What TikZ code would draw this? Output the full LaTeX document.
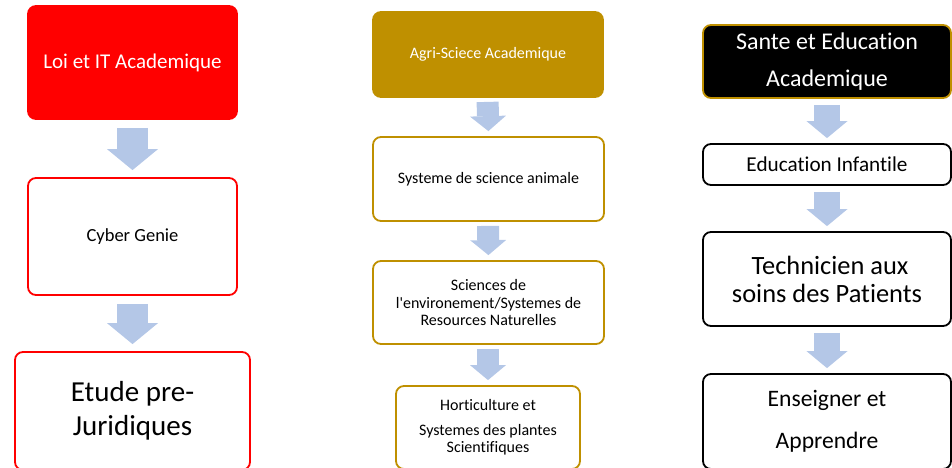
\documentclass[tikz,border=0pt]{standalone}
\usepackage{fontspec}
\setmainfont{Carlito}[Ligatures={TeX,NoCommon}]
\usetikzlibrary{arrows.meta}
\definecolor{lawred}{HTML}{FF0000}
\definecolor{agrigold}{HTML}{BF9000}
\definecolor{flowblue}{HTML}{B4C7E7}
\tikzset{
  box/.style={draw, rounded corners=8pt, line width=1.8pt, fill=white, inner sep=0pt, align=center},
  flow/.style n args={3}{draw=flowblue, line width=#1, -{Triangle[width=#2, length=#3, line width=0pt]}},
  flowbig/.style={flow={31pt}{51pt}{21pt}, shorten <=8pt, shorten >=7pt},
  flowsmall/.style={flow={22pt}{36pt}{15pt}, shorten <=4pt, shorten >=5pt},
  flowmid/.style={flow={26pt}{41pt}{17pt}, shorten <=6pt, shorten >=5pt}
}
\begin{document}
\begin{tikzpicture}[x=1pt, y=-1pt]
  \clip (0,0) rectangle (952,467);
  \useasboundingbox (0,0) rectangle (952,467);
  % loi et IT
  \node[box, draw=lawred, fill=lawred, text=white, minimum width=209pt, minimum height=113pt,
        font=\fontsize{21}{25}\selectfont] (loi) at (132.5,62.5) {Loi et IT Academique};
  \node[box, draw=lawred, minimum width=209pt, minimum height=117pt,
        font=\fontsize{18.5}{22}\selectfont] (cyber) at (132.5,236.5) {Cyber Genie};
  \node[box, draw=lawred, minimum width=235pt, minimum height=118pt,
        font=\fontsize{29}{34}\selectfont] (etude) at (132.5,411) {Etude pre-\\Juridiques};
  % agri-science
  \node[box, draw=agrigold, fill=agrigold, text=white, minimum width=230pt, minimum height=85pt,
        font=\fontsize{16}{19}\selectfont] (agri) at (488,54.5) {Agri-Sciece Academique};
  \node[box, draw=agrigold, minimum width=231pt, minimum height=84pt,
        font=\fontsize{16}{19}\selectfont] (animal) at (488.5,179) {Systeme de science animale};
  \node[box, draw=agrigold, minimum width=231pt, minimum height=83pt,
        font=\fontsize{16}{17.5}\selectfont] (enviro) at (488.5,302.5)
        {Sciences de\\l\textquotesingle environement/Systemes de\\Resources Naturelles};
  \node[box, draw=agrigold, minimum width=184pt, minimum height=83pt,
        font=\fontsize{16}{17}\selectfont] (horti) at (488,427.5)
        {Horticulture et\\[8pt]Systemes des plantes\\Scientifiques};
  % sante et education
  \node[box, draw=agrigold, fill=black, text=white, minimum width=248pt, minimum height=73pt,
        font=\fontsize{24}{37}\selectfont] (sante) at (827,61.5) {Sante et Education\\Academique};
  \node[box, draw=black, minimum width=248pt, minimum height=41pt,
        font=\fontsize{21.2}{25}\selectfont] (infant) at (827,164.5) {Education Infantile};
  \node[box, draw=black, minimum width=248pt, minimum height=94pt,
        font=\fontsize{26.4}{28}\selectfont] (tech) at (827,279) {\ Technicien aux\\soins des Patients};
  \node[box, draw=black, minimum width=248pt, minimum height=95pt,
        font=\fontsize{23.6}{42}\selectfont] (teach) at (827,421.5) {Enseigner et\\Apprendre};
  % arrows
  \foreach \a/\b in {loi/cyber, cyber/etude}
    \draw[flowbig] (\a.south) -- (\b.north);
  \foreach \a/\b in {agri/animal, animal/enviro, enviro/horti}
    \draw[flowsmall] ([xshift=-0.5pt]\a.south) -- (\b.north);
  \foreach \a/\b in {sante/infant, infant/tech, tech/teach}
    \draw[flowmid] (\a.south) -- (\b.north);
\end{tikzpicture}
\end{document}
